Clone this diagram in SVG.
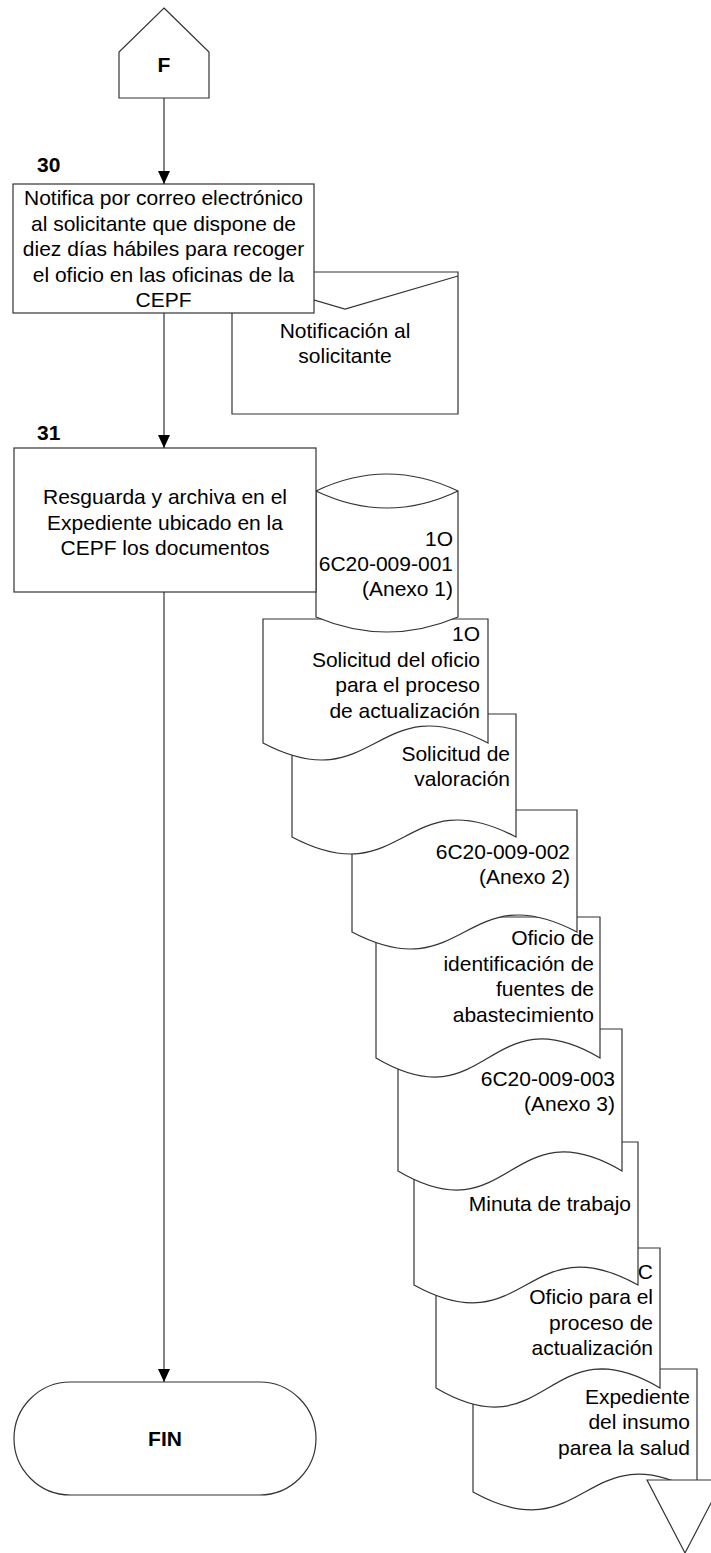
<svg xmlns="http://www.w3.org/2000/svg" width="711" height="1553" viewBox="0 0 711 1553">
<defs>
<style>
.s{fill:#fff;stroke:#333;stroke-width:1.2}
.t{font-family:"Liberation Sans",Arial,sans-serif;font-size:21px;fill:#000}
.c{text-anchor:middle}
.r{text-anchor:end}
.b{font-weight:bold}
.ln{fill:none;stroke:#333;stroke-width:1.2}
</style>
<marker id="ar" markerWidth="13" markerHeight="12" refX="13" refY="6" orient="auto" markerUnits="userSpaceOnUse" viewBox="0 0 13 12">
<path d="M0,0 L13,6 L0,12 Z" fill="#000"/>
</marker>
</defs>
<rect width="711" height="1553" fill="#fff"/>

<g id="conector-F">
<path class="s" d="M164,8 L209,52 L209,98 L119,98 L119,52 Z"/>
<text class="t c b" x="164" y="72">F</text>
</g>

<g id="notificacion">
<path class="s" d="M232,272 H458 V414 H232 Z"/>
<path class="ln" d="M232,276 L345,309 L458,276"/>
<text class="t c" x="345" y="337.5">Notificación al</text>
<text class="t c" x="345" y="363">solicitante</text>
</g>

<g id="paso-30">
<text class="t b" x="37" y="172">30</text>
<rect class="s" x="13" y="184" width="301" height="129"/>
<text class="t c" x="163.5" y="205">Notifica por correo electrónico</text>
<text class="t c" x="163.5" y="230.5">al solicitante que dispone de</text>
<text class="t c" x="163.5" y="256">diez días hábiles para recoger</text>
<text class="t c" x="163.5" y="281.5">el oficio en las oficinas de la</text>
<text class="t c" x="163.5" y="307">CEPF</text>
</g>

<g id="doc-expediente">
<path class="s" d="M473,1369 H697 V1492 C585,1430 585,1554 473,1492 Z"/>
<text class="t r" x="690" y="1403.5">Expediente</text>
<text class="t r" x="690" y="1429">del insumo</text>
<text class="t r" x="690" y="1454.5">parea la salud</text>
</g>

<g id="doc-oficio-actualizacion">
<path class="s" d="M436,1248 H660 V1388 C548,1322 548,1454 436,1388 Z"/>
<text class="t r" x="653" y="1278.5">C</text>
<text class="t r" x="653" y="1304">Oficio para el</text>
<text class="t r" x="653" y="1329.5">proceso de</text>
<text class="t r" x="653" y="1355">actualización</text>
</g>

<g id="doc-minuta">
<path class="s" d="M414,1142 H638 V1285 C526,1223 526,1347 414,1285 Z"/>
<text class="t r" x="631" y="1210.5">Minuta de trabajo</text>
</g>

<g id="doc-anexo3">
<path class="s" d="M398,1029 H622 V1171 C510,1105 510,1237 398,1171 Z"/>
<text class="t r" x="615" y="1085.5">6C20-009-003</text>
<text class="t r" x="615" y="1111">(Anexo 3)</text>
</g>

<g id="doc-fuentes">
<path class="s" d="M376,917 H600 V1058 C488,992 488,1124 376,1058 Z"/>
<text class="t r" x="594" y="945">Oficio de</text>
<text class="t r" x="594" y="970.5">identificación de</text>
<text class="t r" x="594" y="996">fuentes de</text>
<text class="t r" x="594" y="1021.5">abastecimiento</text>
</g>

<g id="doc-anexo2">
<path class="s" d="M352,810 H577 V932 C464.5,873 464.5,991 352,932 Z"/>
<text class="t r" x="570" y="858.5">6C20-009-002</text>
<text class="t r" x="570" y="884">(Anexo 2)</text>
</g>

<g id="doc-valoracion">
<path class="s" d="M292,714 H516 V837 C404,778 404,896 292,837 Z"/>
<text class="t r" x="510" y="760.5">Solicitud de</text>
<text class="t r" x="510" y="786">valoración</text>
</g>

<g id="doc-solicitud-oficio">
<path class="s" d="M263,619 H488 V743 C375.5,684 375.5,802 263,743 Z"/>
<text class="t r" x="480" y="641">1O</text>
<text class="t r" x="480" y="666.5">Solicitud del oficio</text>
<text class="t r" x="480" y="692">para el proceso</text>
<text class="t r" x="480" y="717.5">de actualización</text>
</g>

<g id="archivo-anexo1">
<path class="s" d="M316,491 Q387,457 458,491 L458,617 Q387,647 316,617 Z"/>
<path class="ln" d="M316,491 Q387,525 458,491"/>
<text class="t r" x="453" y="545.5">1O</text>
<text class="t r" x="453" y="570.5">6C20-009-001</text>
<text class="t r" x="453" y="595.5">(Anexo 1)</text>
</g>

<g id="paso-31">
<text class="t b" x="37" y="440">31</text>
<rect class="s" x="14" y="448" width="302" height="144"/>
<text class="t c" x="165" y="504">Resguarda y archiva en el</text>
<text class="t c" x="165" y="529.5">Expediente ubicado en la</text>
<text class="t c" x="165" y="555">CEPF los documentos</text>
</g>

<g id="conector-pagina">
<path class="s" d="M647,1480 L723,1480 L685,1553 Z"/>
</g>

<g id="fin">
<rect class="s" x="14" y="1382" width="302" height="113" rx="56.5" ry="56.5"/>
<text class="t c b" x="165" y="1446">FIN</text>
</g>

<g id="conectores">
<line class="ln" x1="164" y1="98" x2="164" y2="184" marker-end="url(#ar)"/>
<line class="ln" x1="164" y1="313" x2="164" y2="448" marker-end="url(#ar)"/>
<line class="ln" x1="164" y1="592" x2="164" y2="1382" marker-end="url(#ar)"/>
</g>
</svg>
